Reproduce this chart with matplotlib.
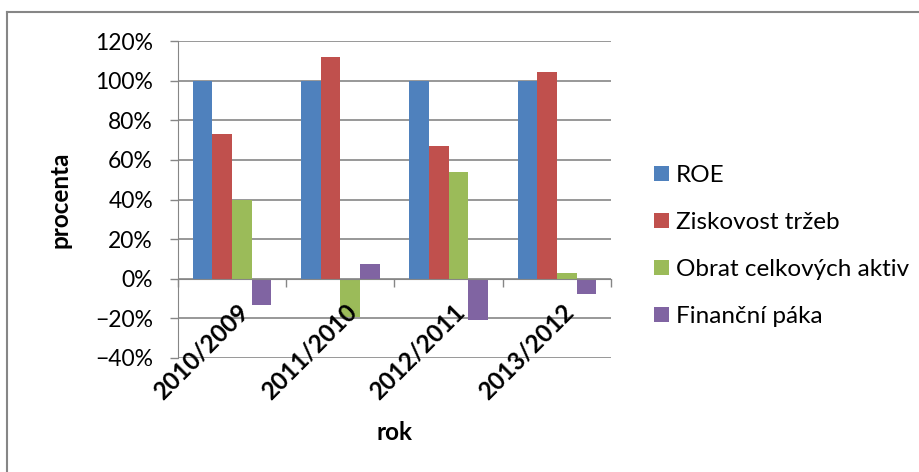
import matplotlib
matplotlib.use("Agg")
import matplotlib.pyplot as plt
from matplotlib.lines import Line2D
from matplotlib.ticker import PercentFormatter
from matplotlib.transforms import offset_copy
import numpy as np

plt.rcParams['font.family'] = ['Lato', 'DejaVu Sans']

categories = ['2010/2009', '2011/2010', '2012/2011', '2013/2012']
series_names = ['ROE', 'Ziskovost tržeb', 'Obrat celkových aktiv', 'Finanční páka']
roe = [100, 100, 100, 100]
ziskovost = [73.0, 111.7, 66.9, 104.4]
obrat = [40.0, -19.1, 53.7, 2.7]
paka = [-13.0, 7.4, -20.8, -7.6]

colors = ['#4F81BD', '#C0504D', '#9BBB59', '#8064A2']
grid_col = '#868686'
fs = 17.5

fig = plt.figure(figsize=(9.2, 4.72), dpi=100)
ax = fig.add_axes([178 / 920, 1 - 358 / 472, 433 / 920, 317 / 472])

x = np.arange(len(categories))
w = 1 / 5.5  # gap width 150 %
for k, (vals, name) in enumerate(zip([roe, ziskovost, obrat, paka], series_names)):
    ax.bar(x + (k - 1.5) * w, vals, w, color=colors[k], label=name, zorder=3)

ax.set_xlim(-0.5, 3.5)
ax.set_ylim(-40, 120)
ax.set_yticks(np.arange(-40, 121, 20))
ax.yaxis.set_major_formatter(PercentFormatter(decimals=0))
ax.grid(axis='y', color=grid_col, linewidth=1.2, zorder=0)

for s in ['top', 'right']:
    ax.spines[s].set_visible(False)
ax.spines['left'].set_color(grid_col)
ax.spines['bottom'].set_position(('data', 0))
ax.spines['bottom'].set_color(grid_col)
ax.spines['bottom'].set_zorder(4)

# category ticks sit on the zero line between groups
ax.set_xticks(np.arange(-0.5, 3.6, 1.0))
ax.set_xticklabels([])
ax.tick_params(axis='x', direction='out', length=6, width=1, color=grid_col)
ax.tick_params(axis='y', direction='out', length=6, width=1, color=grid_col,
               labelsize=16.5, pad=12)

for i, cat in enumerate(categories):
    tr = offset_copy(ax.transData, fig=fig, x=9, y=-21, units='points')
    ax.text(i, 0, cat, transform=tr, rotation=45, rotation_mode='anchor',
            ha='right', va='center', fontsize=fs, fontweight='bold')

fig.text(60 / 920, 1 - 200 / 472, 'procenta', rotation=90, ha='center', va='center',
         fontsize=fs, fontweight='bold')
fig.text(395 / 920, 1 - 432 / 472, 'rok', ha='center', va='center',
         fontsize=fs, fontweight='bold')

fig.legend(loc='center left', bbox_to_anchor=(654 / 920, 1 - 246 / 472),
           frameon=False, fontsize=fs, borderpad=0, borderaxespad=0,
           handlelength=0.6, handleheight=0.6, handletextpad=0.3,
           labelspacing=1.07)

# outer chart frame, cut off at right and bottom
fig.add_artist(Line2D([7 / 920, 1.0], [1 - 12 / 472, 1 - 12 / 472],
                      color=grid_col, linewidth=1.5, transform=fig.transFigure))
fig.add_artist(Line2D([7 / 920, 7 / 920], [0.0, 1 - 12 / 472],
                      color=grid_col, linewidth=1.5, transform=fig.transFigure))

fig.savefig('out.png', dpi=100)
